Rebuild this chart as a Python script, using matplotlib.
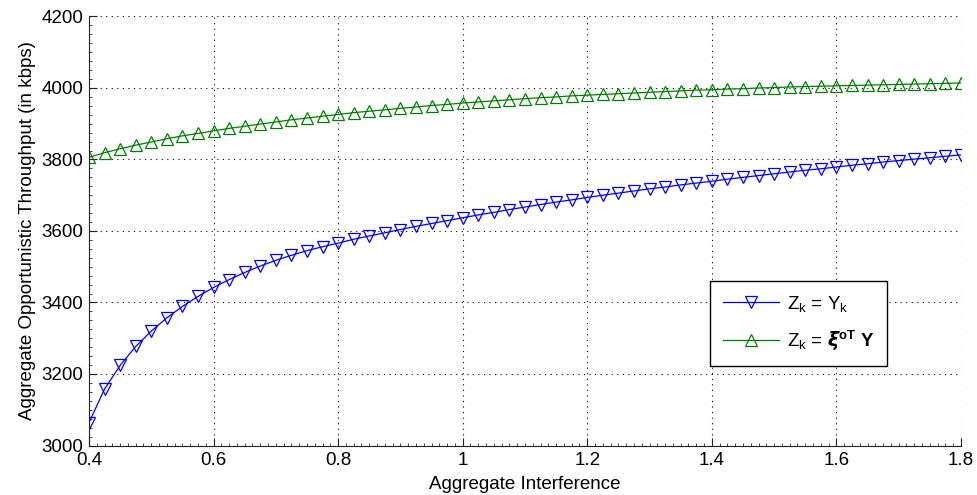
import matplotlib
matplotlib.use("Agg")
import matplotlib.pyplot as plt
from matplotlib.ticker import MultipleLocator
import numpy as np

plt.rcParams['font.family'] = ['Liberation Sans', 'DejaVu Sans']
plt.rcParams['mathtext.fontset'] = 'custom'
plt.rcParams['mathtext.rm'] = 'Liberation Sans'
plt.rcParams['mathtext.it'] = 'Liberation Sans'
plt.rcParams['mathtext.bf'] = 'Liberation Sans:bold'

# aggregate interference samples (0.4 .. 1.8, step 0.025)
interference = np.round(np.arange(0.4, 1.8001, 0.025), 3)

thr_zy = [3064, 3158, 3224, 3277, 3320, 3357, 3389, 3417, 3442, 3464,
          3484, 3502, 3518, 3532, 3545, 3556, 3566, 3577, 3586, 3595,
          3604, 3613, 3621, 3629, 3637, 3645, 3652, 3660, 3667, 3674,
          3681, 3687, 3694, 3700, 3706, 3712, 3718, 3723, 3729, 3734,
          3739, 3745, 3750, 3755, 3760, 3765, 3770, 3774, 3779, 3784,
          3788, 3793, 3797, 3801, 3805, 3809, 3813]

thr_xi = [3806, 3819, 3830, 3840, 3849, 3858, 3866, 3873, 3880, 3887,
          3893, 3899, 3905, 3911, 3916, 3921, 3926, 3931, 3935, 3939,
          3943, 3947, 3951, 3954, 3958, 3961, 3964, 3967, 3970, 3973,
          3975, 3978, 3980, 3982, 3984, 3986, 3988, 3990, 3992, 3994,
          3995, 3997, 3998, 4000, 4001, 4003, 4004, 4005, 4006, 4007,
          4008, 4009, 4010, 4011, 4012, 4013, 4014]

labels = [r'$\mathrm{Z_k}$ = $\mathrm{Y_k}$',
          r'$\mathrm{Z_k}$ = $\boldsymbol{\xi}^{\mathbf{oT}}$ $\mathbf{Y}$']

fs = 13.5

fig = plt.figure(figsize=(9.78, 4.95), dpi=100)
ax = fig.add_axes([0.091, 0.1, 0.8916, 0.8667])

ax.plot(interference, thr_zy, color='#0000ff', lw=0.9, marker='v',
        ms=8.5, mfc='none', mew=0.9, label=labels[0])
ax.plot(interference, thr_xi, color='#008000', lw=0.9, marker='^',
        ms=8.5, mfc='none', mew=0.9, label=labels[1])

ax.set_xlim(0.4, 1.8)
ax.set_ylim(3000, 4200)
ax.set_xticks([0.4, 0.6, 0.8, 1.0, 1.2, 1.4, 1.6, 1.8])
ax.set_xticklabels(['0.4', '0.6', '0.8', '1', '1.2', '1.4', '1.6', '1.8'])
ax.set_yticks(np.arange(3000, 4201, 200))
ax.xaxis.set_minor_locator(MultipleLocator(0.0125))
ax.yaxis.set_minor_locator(MultipleLocator(25))
ax.tick_params(which='both', direction='in', labelsize=fs, colors='#222222',
               pad=4)
ax.tick_params(axis='x', which='both', pad=5)
ax.tick_params(which='major', length=6)
ax.tick_params(which='minor', length=2.5)
for lbl in ax.get_xticklabels() + ax.get_yticklabels():
    lbl.set_color('black')

for side in ['top', 'right']:
    ax.spines[side].set_visible(False)
for side in ['left', 'bottom']:
    ax.spines[side].set_color('#222222')

ax.grid(True, which='major', linestyle=(0, (1, 4)), color='black', lw=0.8)

ax.set_xlabel('Aggregate Interference', fontsize=fs, labelpad=5)
ax.set_ylabel('Aggregate Opportunistic Throughput (in kbps)', fontsize=fs,
              labelpad=4)

leg = ax.legend(loc='lower left', bbox_to_anchor=(0.712, 0.185), fontsize=fs,
                fancybox=False, framealpha=1, edgecolor='black',
                handlelength=3, borderpad=0.7, labelspacing=0.8,
                handletextpad=0.4, borderaxespad=0)
leg.get_frame().set_linewidth(1.0)

fig.savefig('out.png', dpi=100)
